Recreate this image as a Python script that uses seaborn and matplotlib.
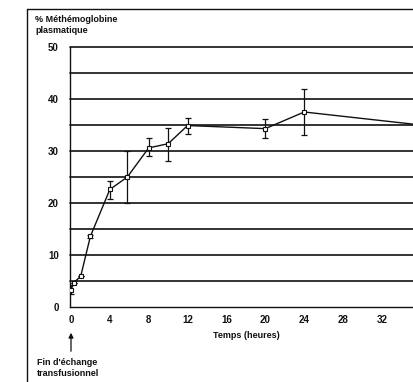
#!/usr/bin/env python3
"""Methemoglobin plasma level after exchange transfusion."""

import matplotlib
matplotlib.use("Agg")
import matplotlib.pyplot as plt
from matplotlib.lines import Line2D
import pandas as pd
import seaborn as sns

# data
hours = [0, 0.3, 1, 2, 4, 5.8, 8, 10, 12, 20, 24, 36]
methb = [3.3, 4.7, 5.9, 13.6, 22.6, 25.0, 30.6, 31.4, 34.9, 34.3, 37.5, 35.0]
err_low = [0.8, 0, 0, 0.3, 1.9, 5.0, 1.6, 3.4, 1.6, 1.8, 4.5, 0]
err_high = [1.0, 0, 0, 0.3, 1.7, 5.0, 1.9, 3.1, 1.5, 1.9, 4.5, 0]
x_ticks = [0, 4, 8, 12, 16, 20, 24, 28, 32]
y_ticks = [0, 10, 20, 30, 40, 50]

INK = "#111111"


def main() -> None:
    sns.set_theme(style="white")
    plt.rcParams["font.family"] = ["Liberation Sans", "DejaVu Sans"]
    plt.rcParams["font.weight"] = "bold"

    df = pd.DataFrame({"hours": hours, "methb": methb})

    fig = plt.figure(figsize=(4.14, 3.82), dpi=100)
    ax = fig.add_axes([70 / 414, 75 / 382, 1 - 70 / 414, 260 / 382])

    for y in range(5, 51, 5):
        ax.axhline(y, color=INK, lw=1.2, zorder=1, clip_on=False)

    ax.errorbar(hours, methb, yerr=[err_low, err_high], fmt="none",
                ecolor=INK, elinewidth=0.9, capsize=2, capthick=0.9, zorder=3)
    sns.lineplot(data=df, x="hours", y="methb", ax=ax, color=INK, lw=1.0,
                 marker="s", markersize=3, markerfacecolor="white",
                 markeredgecolor=INK, markeredgewidth=0.8, zorder=4)

    ax.set_xlim(-0.1, 35.3)
    ax.set_ylim(0, 50)
    ax.set_xticks(x_ticks)
    ax.set_xticks(range(0, 36, 2), minor=True)
    ax.set_yticks(y_ticks)
    ax.tick_params(axis="both", which="both", direction="out", colors=INK,
                   labelsize=7, length=3, width=0.9, pad=5)
    ax.tick_params(axis="x", which="both", pad=3)
    ax.tick_params(axis="x", which="minor", length=2)
    for lab in ax.get_xticklabels() + ax.get_yticklabels():
        lab.set_fontweight("bold")
    ax.set_xlabel("")
    ax.set_ylabel("")
    for side in ["top", "right"]:
        ax.spines[side].set_visible(False)
    for side in ["left", "bottom"]:
        ax.spines[side].set_color(INK)
        ax.spines[side].set_linewidth(1.0)

    fig.text(35 / 414, 1 - 25 / 382, "% Méthémoglobine\nplasmatique",
             fontsize=6.5, fontweight="bold", va="center", ha="left",
             linespacing=1.35, color=INK)
    fig.text(246 / 414, 1 - 336 / 382, "Temps (heures)", fontsize=6.5,
             fontweight="bold", ha="center", va="center", color=INK)
    fig.text(37 / 414, 1 - 368 / 382, "Fin d'échange\ntransfusionnel",
             fontsize=6.5, fontweight="bold", ha="left", va="center",
             linespacing=1.4, color=INK)
    ax.annotate("", xy=(71 / 414, 1 - 330 / 382), xytext=(71 / 414, 1 - 354 / 382),
                xycoords="figure fraction", textcoords="figure fraction",
                arrowprops=dict(arrowstyle="-|>", color=INK, lw=0.9,
                                mutation_scale=7))

    # frame around the figure (left and top edges)
    fig.add_artist(Line2D([27 / 414, 27 / 414], [0, 1 - 9 / 382],
                          transform=fig.transFigure, color=INK, lw=1.0))
    fig.add_artist(Line2D([27 / 414, 1], [1 - 9 / 382, 1 - 9 / 382],
                          transform=fig.transFigure, color=INK, lw=1.0))

    fig.savefig("out.png", dpi=100, facecolor="white")
    plt.close(fig)


if __name__ == "__main__":
    main()
